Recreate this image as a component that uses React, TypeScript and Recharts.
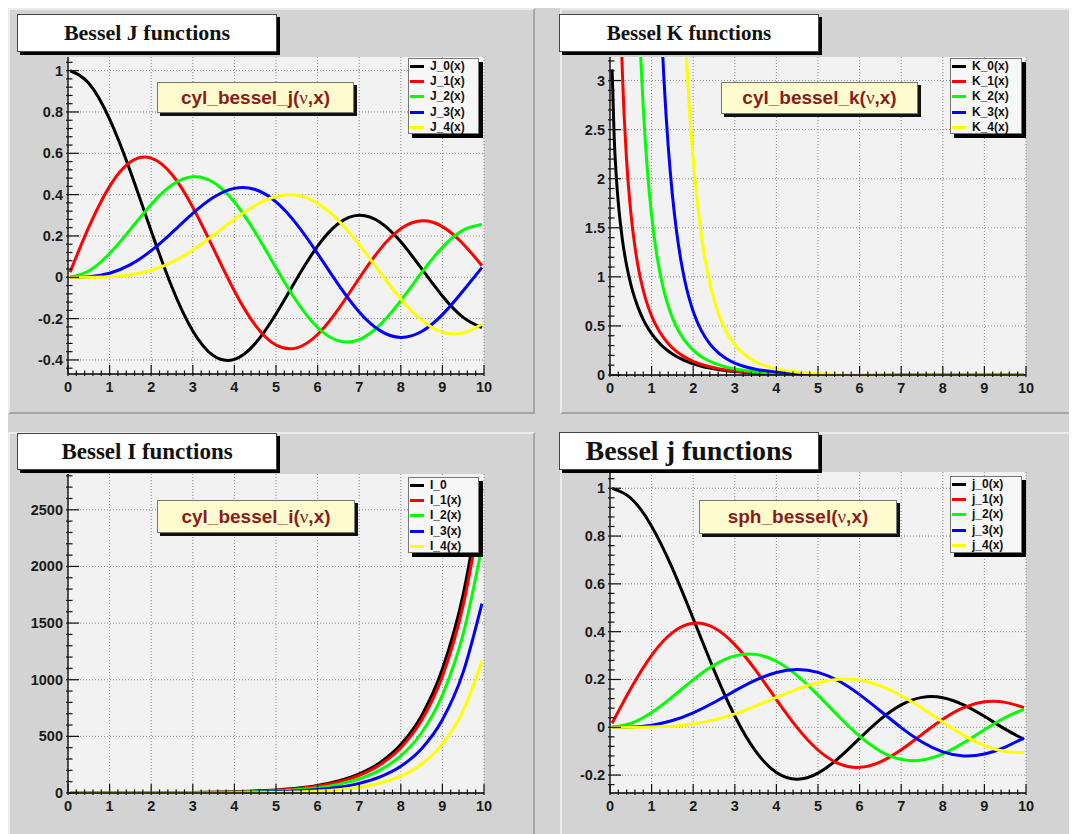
import React from 'react';
import { CartesianGrid, Legend, Line, LineChart, XAxis, YAxis } from 'recharts';

// sample points along x (curves are drawn from 0.05 to 9.95, like the reference)
const xSample = [0.05, 0.5, 1, 1.5, 2, 2.5, 3, 3.5, 4, 4.5, 5, 5.5, 6, 6.5, 7, 7.5, 8, 8.5, 9, 9.5, 9.95];
const xK = [0.05, 0.1, 0.15, 0.2, 0.3, 0.4, 0.5, 0.6, 0.7, 0.8, 0.9, 1, 1.1, 1.2, 1.3, 1.4, 1.5, 1.6, 1.7, 1.8, 1.9, 2, 2.2, 2.4, 2.6, 2.8, 3, 3.5, 4, 4.5, 5, 6, 7, 8, 9, 9.95];

// cylindrical J
const cylJ0 = [0.9994, 0.9385, 0.7652, 0.5118, 0.2239, -0.0484, -0.2601, -0.3801, -0.3971, -0.3205, -0.1776, -0.0068, 0.1506, 0.2601, 0.3001, 0.2663, 0.1717, 0.0419, -0.0903, -0.1939, -0.2437];
const cylJ1 = [0.025, 0.2423, 0.4401, 0.5579, 0.5767, 0.4971, 0.3391, 0.1374, -0.066, -0.2311, -0.3276, -0.3414, -0.2767, -0.1538, -0.0047, 0.1352, 0.2346, 0.2731, 0.2453, 0.1613, 0.056];
const cylJ2 = [0.0003, 0.0306, 0.1149, 0.2321, 0.3528, 0.4461, 0.4861, 0.4586, 0.3641, 0.2178, 0.0466, -0.1173, -0.2429, -0.3074, -0.3014, -0.2303, -0.113, 0.0223, 0.1448, 0.2279, 0.255];
const cylJ3 = [0, 0.0026, 0.0196, 0.061, 0.1289, 0.2166, 0.3091, 0.3868, 0.4302, 0.4247, 0.3648, 0.2561, 0.1148, -0.0353, -0.1676, -0.2581, -0.2911, -0.2626, -0.1809, -0.0653, 0.0465];
const cylJ4 = [0, 0.0002, 0.0025, 0.0118, 0.034, 0.0738, 0.132, 0.2044, 0.2811, 0.3484, 0.3912, 0.3967, 0.3576, 0.2748, 0.1578, 0.0238, -0.1054, -0.2077, -0.2655, -0.2691, -0.2269];

// cylindrical K
const cylK0 = [3.114, 2.427, 2.03, 1.753, 1.372, 1.115, 0.924, 0.778, 0.661, 0.565, 0.487, 0.421, 0.366, 0.319, 0.278, 0.244, 0.214, 0.188, 0.166, 0.146, 0.129, 0.114, 0.089, 0.07, 0.055, 0.044, 0.035, 0.02, 0.011, 0.006, 0.004, 0.001, 0.0004, 0.0001, 0.00005, 0.00002];
const cylK1 = [null, 9.854, 6.477, 4.776, 3.056, 2.184, 1.656, 1.303, 1.05, 0.862, 0.717, 0.602, 0.51, 0.435, 0.373, 0.321, 0.277, 0.241, 0.209, 0.183, 0.16, 0.14, 0.108, 0.084, 0.065, 0.051, 0.04, 0.022, 0.0125, 0.0071, 0.004, 0.0013, 0.0005, 0.0002, 0.00005, 0.00002];
const cylK2 = [null, null, null, null, null, 12.04, 7.55, 5.12, 3.661, 2.72, 2.079, 1.625, 1.293, 1.043, 0.851, 0.702, 0.584, 0.489, 0.412, 0.349, 0.297, 0.254, 0.187, 0.14, 0.106, 0.08, 0.062, 0.032, 0.0175, 0.0096, 0.0053, 0.0016, 0.0005, 0.0002, 0.0001, 0.00003];
const cylK3 = [null, null, null, null, null, null, null, null, null, 14.46, 9.957, 7.102, 5.21, 3.911, 2.992, 2.326, 1.834, 1.463, 1.179, 0.958, 0.785, 0.648, 0.449, 0.317, 0.228, 0.166, 0.122, 0.059, 0.03, 0.0156, 0.0082, 0.0024, 0.0008, 0.0003, 0.0001, 0.00005];
const cylK4 = [null, null, null, null, null, null, null, null, null, null, null, null, null, null, null, 10.67, 7.919, 5.975, 4.571, 3.541, 2.775, 2.196, 1.411, 0.933, 0.631, 0.436, 0.306, 0.134, 0.0625, 0.0304, 0.0151, 0.004, 0.0012, 0.0004, 0.0001, 0.00005];

// cylindrical I
const cylI0 = [1.0006, 1.064, 1.266, 1.647, 2.28, 3.29, 4.881, 7.378, 11.3, 17.48, 27.24, 42.69, 67.23, 106.3, 168.6, 268.1, 427.6, 683.1, 1094, 1753, 2686];
const cylI1 = [0.025, 0.258, 0.565, 0.982, 1.591, 2.517, 3.953, 6.206, 9.759, 15.39, 24.34, 38.59, 61.34, 97.78, 156, 249.7, 399.9, 641.8, 1031, 1659, 2547];
const cylI2 = [0.0003, 0.032, 0.136, 0.338, 0.689, 1.276, 2.245, 3.832, 6.422, 10.64, 17.51, 28.66, 46.79, 76.19, 124, 201.6, 327.6, 532.1, 864.5, 1404, 2174];
const cylI3 = [0, 0.003, 0.022, 0.081, 0.213, 0.475, 0.96, 1.826, 3.337, 5.93, 10.33, 17.74, 30.15, 50.89, 85.17, 142.2, 236.1, 391.4, 646.7, 1067, 1672];
const cylI4 = [0, 0.0002, 0.0027, 0.0141, 0.0507, 0.1376, 0.3257, 0.701, 1.416, 2.735, 5.108, 9.307, 16.64, 29.2, 51, 87.8, 150.5, 255.8, 433.9, 730.2, 1164];

// spherical j
const sphJ0 = [0.9996, 0.9589, 0.8415, 0.665, 0.4546, 0.2394, 0.047, -0.1002, -0.1892, -0.2172, -0.1918, -0.1283, -0.0466, 0.0331, 0.0939, 0.1251, 0.1237, 0.0939, 0.0458, -0.0079, -0.0504];
const sphJ1 = [0.0167, 0.1625, 0.3012, 0.3962, 0.4354, 0.4162, 0.3457, 0.2389, 0.1161, -0.0014, -0.0951, -0.1522, -0.1678, -0.1452, -0.0943, -0.0295, 0.0336, 0.0819, 0.1063, 0.1041, 0.082];
const sphJ2 = [0.0002, 0.0161, 0.062, 0.1274, 0.1985, 0.26, 0.2987, 0.305, 0.2763, 0.2163, 0.1347, 0.0453, -0.0373, -0.1001, -0.1343, -0.1369, -0.1111, -0.065, -0.0104, 0.0408, 0.0752];
const sphJ3 = [0, 0.0012, 0.009, 0.0283, 0.0607, 0.1038, 0.1521, 0.1968, 0.2293, 0.2417, 0.2298, 0.1934, 0.1367, 0.0682, -0.0016, -0.0618, -0.103, -0.1201, -0.1121, -0.0826, -0.0442];
const sphJ4 = [0, 0.0001, 0.001, 0.0048, 0.0141, 0.0309, 0.0562, 0.0886, 0.125, 0.1597, 0.187, 0.2008, 0.1968, 0.1735, 0.1327, 0.0792, 0.021, -0.0339, -0.0768, -0.1017, -0.1064];

// legend names
const namesJ = ['J_0(x)', 'J_1(x)', 'J_2(x)', 'J_3(x)', 'J_4(x)'];
const namesK = ['K_0(x)', 'K_1(x)', 'K_2(x)', 'K_3(x)', 'K_4(x)'];
const namesI = ['I_0', 'I_1(x)', 'I_2(x)', 'I_3(x)', 'I_4(x)'];
const namesSph = ['j_0(x)', 'j_1(x)', 'j_2(x)', 'j_3(x)', 'j_4(x)'];

// axis ticks
const xMajor = [0, 1, 2, 3, 4, 5, 6, 7, 8, 9, 10];
const yMajorJ = [-0.4, -0.2, 0, 0.2, 0.4, 0.6, 0.8, 1];
const yMajorK = [0, 0.5, 1, 1.5, 2, 2.5, 3];
const yMajorI = [0, 500, 1000, 1500, 2000, 2500];
const yMajorSph = [-0.2, 0, 0.2, 0.4, 0.6, 0.8, 1];

const COLORS = ['#000000', '#ff0000', '#00ff00', '#0000ff', '#ffff00'];
const PAGE = 8; // body margin
const YW = 60;
const XH = 28;
const MT = 6;
const MR = 14;

const tickFont: React.CSSProperties = {
  fontFamily: '"Liberation Sans", Arial, sans-serif',
  fontWeight: 700,
  fontSize: 14.5,
  fill: '#1a1a1a',
};

type Box = { x: number; y: number; w: number; h: number };

function buildRows(xs: number[], cols: (number | null)[][]) {
  return xs.map((x, i) => {
    const row: Record<string, number | null> = { x };
    cols.forEach((c, k) => {
      row['s' + k] = c[i];
    });
    return row;
  });
}

function withMinors(majors: number[], domain: number[], step: number) {
  const out: number[] = [];
  const start = Math.ceil(domain[0] / step - 1e-9);
  for (let k = start; k * step <= domain[1] + 1e-9; k++) out.push(Number((k * step).toFixed(6)));
  majors.forEach((m) => {
    if (!out.some((v) => Math.abs(v - m) < 1e-9)) out.push(m);
  });
  return out.sort((a, b) => a - b);
}

function findMajor(v: number, majors: number[]) {
  return majors.find((m) => Math.abs(m - v) < 1e-6);
}

function XTick({ x, y, value, majors }: { x: number; y: number; value: number; majors: number[] }) {
  const m = findMajor(value, majors);
  return (
    <g>
      <line x1={x} x2={x} y1={y} y2={y - (m !== undefined ? 11 : 5.5)} stroke="#111" strokeWidth={1.2} />
      {m !== undefined && (
        <text x={x} y={y + 16} textAnchor="middle" style={tickFont}>
          {String(m)}
        </text>
      )}
    </g>
  );
}

function YTick({ x, y, value, majors }: { x: number; y: number; value: number; majors: number[] }) {
  const m = findMajor(value, majors);
  return (
    <g>
      <line x1={x} x2={x + (m !== undefined ? 13 : 6.5)} y1={y} y2={y} stroke="#111" strokeWidth={1.2} />
      {m !== undefined && (
        <text x={x - 3} y={y + 5} textAnchor="end" style={tickFont}>
          {String(m)}
        </text>
      )}
    </g>
  );
}

function LegendBox({ payload, box }: { payload?: any[]; box: Box }) {
  return (
    <div
      style={{
        width: box.w,
        height: box.h,
        boxSizing: 'border-box',
        background: '#f7f7f7',
        border: '1px solid #777',
        boxShadow: '4px 4px 0 #000',
      }}
    >
      {(payload || []).map((p) => (
        <div key={p.value} style={{ display: 'flex', alignItems: 'center', height: 15.2 }}>
          <span style={{ display: 'inline-block', width: 14, height: 3, background: p.color, marginLeft: 1, marginRight: 6 }} />
          <span
            style={{
              fontFamily: '"Liberation Sans", Arial, sans-serif',
              fontWeight: 700,
              fontSize: 12,
              color: '#111',
              lineHeight: '15px',
            }}
          >
            {p.value}
          </span>
        </div>
      ))}
    </div>
  );
}

type PanelProps = {
  rows: Record<string, number | null>[];
  names: string[];
  title: string;
  titleSize: number;
  fnName: string;
  frame: Box;
  titleBox: Box;
  labelBox: Box;
  legendBox: Box;
  yDomain: number[];
  yMajor: number[];
  yMinorStep: number;
  curve: 'natural' | 'monotone';
};

function Panel(p: PanelProps) {
  const left = p.frame.x - PAGE - YW;
  const top = p.frame.y - PAGE - MT;
  const width = YW + p.frame.w + MR;
  const height = MT + p.frame.h + XH;
  const xTicks = withMinors(xMajor, [0, 10], 0.2);
  const yTicks = withMinors(p.yMajor, p.yDomain, p.yMinorStep);
  return (
    <>
      <div style={{ position: 'absolute', left, top, width, height }}>
        <LineChart width={width} height={height} data={p.rows} margin={{ top: MT, right: MR, bottom: 0, left: 0 }}>
          <CartesianGrid
            fill="#f2f2f2"
            stroke="#8c8c8c"
            strokeDasharray="1 2"
            verticalValues={xMajor}
            horizontalValues={p.yMajor}
          />
          <XAxis
            dataKey="x"
            type="number"
            domain={[0, 10]}
            ticks={xTicks}
            interval={0}
            height={XH}
            tickSize={0}
            tickLine={false}
            axisLine={{ stroke: '#000', strokeWidth: 1.3 }}
            tick={(t: any) => <XTick x={t.x} y={t.y} value={t.payload.value} majors={xMajor} />}
            allowDataOverflow
          />
          <XAxis
            xAxisId="top"
            orientation="top"
            type="number"
            domain={[0, 10]}
            height={0}
            tick={false}
            tickLine={false}
            axisLine={{ stroke: '#555', strokeWidth: 1.3 }}
          />
          <YAxis
            type="number"
            domain={p.yDomain}
            ticks={yTicks}
            interval={0}
            width={YW}
            tickSize={0}
            tickLine={false}
            axisLine={{ stroke: '#000', strokeWidth: 1.3 }}
            tick={(t: any) => <YTick x={t.x} y={t.y} value={t.payload.value} majors={p.yMajor} />}
            allowDataOverflow
          />
          <YAxis
            yAxisId="right"
            orientation="right"
            type="number"
            domain={p.yDomain}
            width={0}
            tick={false}
            tickLine={false}
            axisLine={{ stroke: '#555', strokeWidth: 1.3 }}
          />
          {p.names.map((n, k) => (
            <Line
              key={n}
              dataKey={'s' + k}
              name={n}
              type={p.curve}
              stroke={COLORS[k]}
              strokeWidth={3}
              dot={false}
              isAnimationActive={false}
            />
          ))}
          <Legend
            layout="vertical"
            align="center"
            verticalAlign="middle"
            wrapperStyle={{ left: p.legendBox.x - PAGE - left, top: p.legendBox.y - PAGE - top, width: p.legendBox.w }}
            content={(props: any) => <LegendBox payload={props.payload} box={p.legendBox} />}
          />
        </LineChart>
      </div>
      <div
        style={{
          position: 'absolute',
          left: p.titleBox.x - PAGE,
          top: p.titleBox.y - PAGE,
          width: p.titleBox.w,
          height: p.titleBox.h,
          boxSizing: 'border-box',
          background: '#fff',
          border: '1px solid #444',
          boxShadow: '3px 3px 0 #000',
          display: 'flex',
          alignItems: 'center',
          justifyContent: 'center',
          fontFamily: '"Liberation Serif", "Times New Roman", serif',
          fontWeight: 700,
          fontSize: p.titleSize,
          color: '#111',
        }}
      >
        {p.title}
      </div>
      <div
        style={{
          position: 'absolute',
          left: p.labelBox.x - PAGE,
          top: p.labelBox.y - PAGE,
          width: p.labelBox.w,
          height: p.labelBox.h,
          boxSizing: 'border-box',
          background: '#fefccf',
          border: '1px solid #777',
          boxShadow: '3px 3px 0 #111',
          display: 'flex',
          alignItems: 'center',
          justifyContent: 'center',
          fontFamily: '"Liberation Sans", Arial, sans-serif',
          fontWeight: 700,
          fontSize: 19,
          color: '#8b1c1c',
        }}
      >
        {p.fnName}(
        <span style={{ fontFamily: '"Liberation Serif", serif', fontWeight: 400 }}>ν</span>
        ,x)
      </div>
    </>
  );
}

const padStyle = (x: number, y: number, w: number, h: number): React.CSSProperties => ({
  position: 'absolute',
  left: x - PAGE,
  top: y - PAGE,
  width: w,
  height: h,
  boxSizing: 'border-box',
  borderTop: '2px solid #ebebeb',
  borderLeft: '2px solid #ebebeb',
  borderBottom: '2px solid #a6a6a6',
  borderRight: '2px solid #a6a6a6',
});

export default function App() {
  const rowsJ = buildRows(xSample, [cylJ0, cylJ1, cylJ2, cylJ3, cylJ4]);
  const rowsK = buildRows(xK, [cylK0, cylK1, cylK2, cylK3, cylK4]);
  const rowsI = buildRows(xSample, [cylI0, cylI1, cylI2, cylI3, cylI4]);
  const rowsSph = buildRows(xSample, [sphJ0, sphJ1, sphJ2, sphJ3, sphJ4]);
  return (
    <div style={{ position: 'relative', width: 1069, height: 826, background: '#d3d3d3', overflow: 'hidden' }}>
      <style>{'body{overflow:hidden}'}</style>
      <div style={padStyle(8, 8, 527, 406)} />
      <div style={padStyle(560, 8, 527, 406)} />
      <div style={padStyle(8, 432, 527, 420)} />
      <div style={padStyle(560, 432, 527, 420)} />
      <Panel
        rows={rowsJ}
        names={namesJ}
        title="Bessel J functions"
        titleSize={22}
        fnName="cyl_bessel_j"
        frame={{ x: 68, y: 57, w: 416, h: 317 }}
        titleBox={{ x: 17, y: 14, w: 260, h: 38 }}
        labelBox={{ x: 157, y: 82, w: 197, h: 31 }}
        legendBox={{ x: 408, y: 58, w: 71, h: 76 }}
        yDomain={[-0.468, 1.066]}
        yMajor={yMajorJ}
        yMinorStep={0.04}
        curve="natural"
      />
      <Panel
        rows={rowsK}
        names={namesK}
        title="Bessel K functions"
        titleSize={21}
        fnName="cyl_bessel_k"
        frame={{ x: 610, y: 57, w: 416, h: 318 }}
        titleBox={{ x: 559, y: 14, w: 260, h: 38 }}
        labelBox={{ x: 721, y: 82, w: 197, h: 32 }}
        legendBox={{ x: 950, y: 58, w: 72, h: 76 }}
        yDomain={[0, 3.24]}
        yMajor={yMajorK}
        yMinorStep={0.1}
        curve="monotone"
      />
      <Panel
        rows={rowsI}
        names={namesI}
        title="Bessel I functions"
        titleSize={23}
        fnName="cyl_bessel_i"
        frame={{ x: 68, y: 474, w: 416, h: 319 }}
        titleBox={{ x: 17, y: 433, w: 260, h: 37 }}
        labelBox={{ x: 157, y: 500, w: 198, h: 33 }}
        legendBox={{ x: 408, y: 477, w: 71, h: 76 }}
        yDomain={[0, 2816]}
        yMajor={yMajorI}
        yMinorStep={100}
        curve="monotone"
      />
      <Panel
        rows={rowsSph}
        names={namesSph}
        title="Bessel j functions"
        titleSize={28}
        fnName="sph_bessel"
        frame={{ x: 610, y: 472, w: 416, h: 321 }}
        titleBox={{ x: 559, y: 432, w: 260, h: 38 }}
        labelBox={{ x: 699, y: 500, w: 198, h: 34 }}
        legendBox={{ x: 950, y: 476, w: 72, h: 77 }}
        yDomain={[-0.275, 1.068]}
        yMajor={yMajorSph}
        yMinorStep={0.04}
        curve="natural"
      />
    </div>
  );
}
